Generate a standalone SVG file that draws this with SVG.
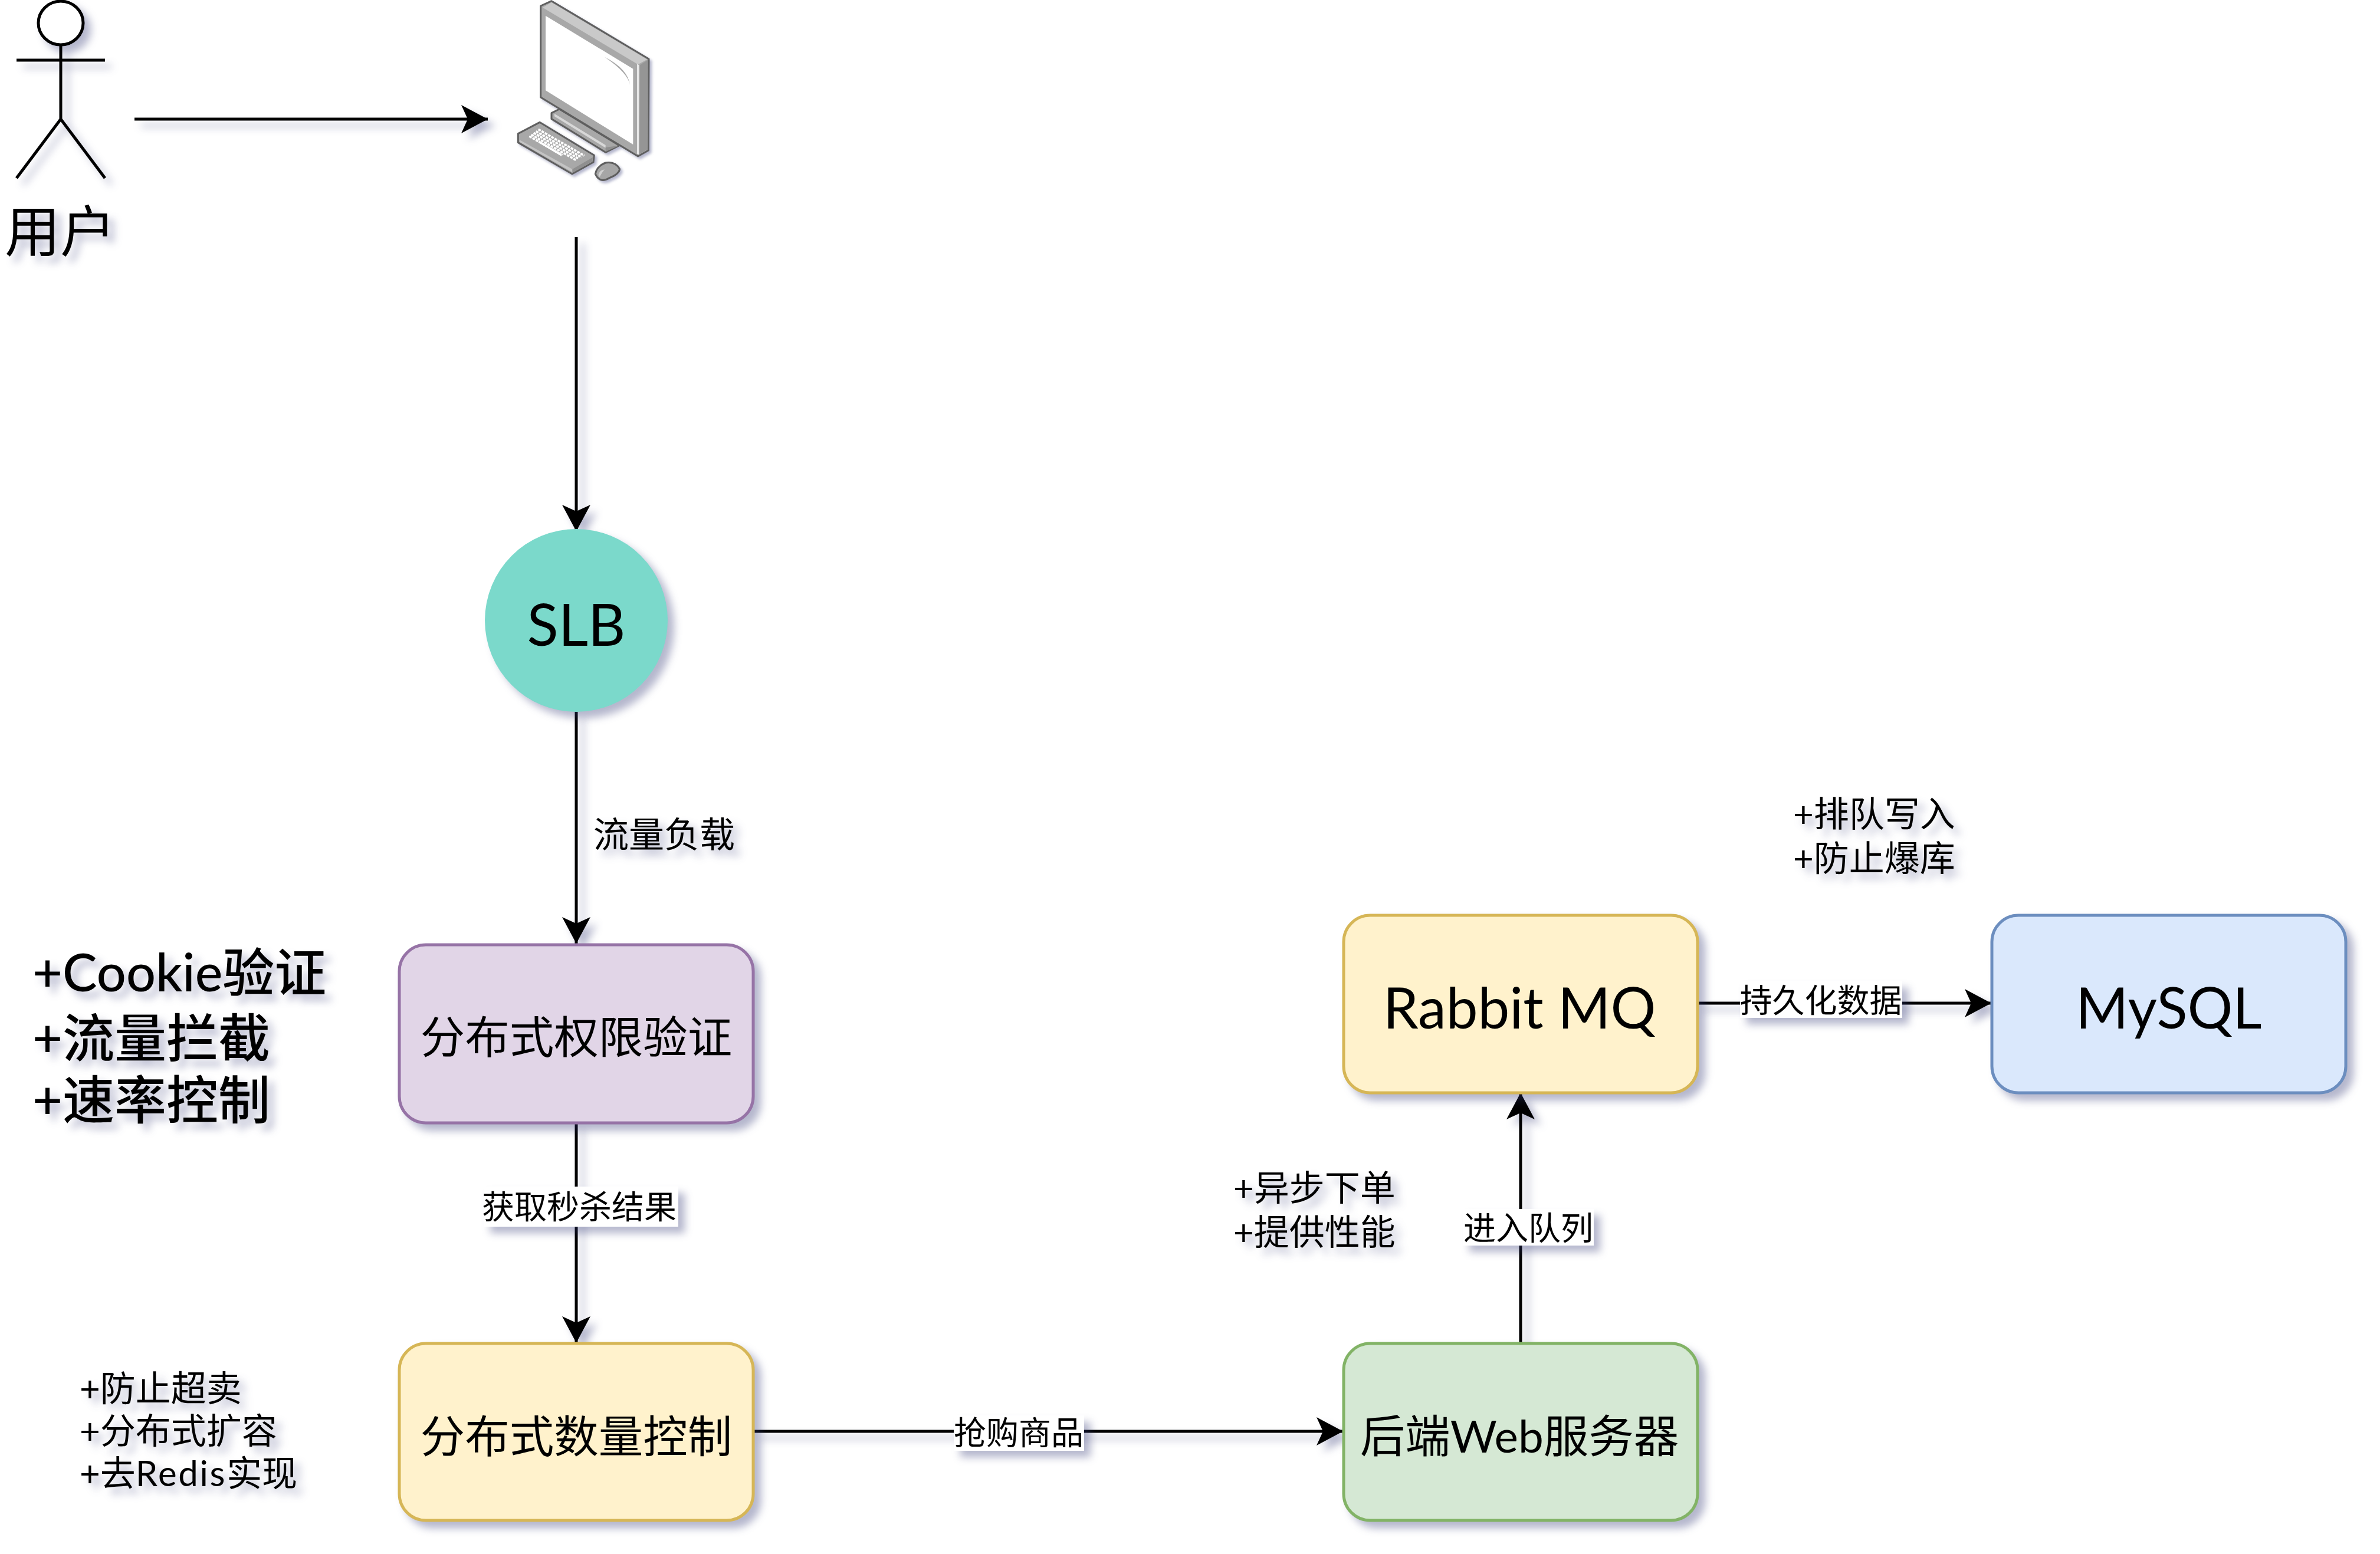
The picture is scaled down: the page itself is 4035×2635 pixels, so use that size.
<svg xmlns="http://www.w3.org/2000/svg" width="4035" height="2635" viewBox="0 0 4035 2635">
<style>
text{font-family:"Lato","Noto Sans CJK SC",sans-serif;fill:#000}
.m{text-anchor:middle}
.box{stroke-width:5}
.conn{fill:none;stroke:#000;stroke-width:5}
.lab{font-size:55px}
.note{font-size:60px}
.big{font-size:88px;font-weight:500}
.node{font-size:75.5px}
.mono{stroke:#5f5f5f;stroke-width:9;stroke-linejoin:round}
</style>
<defs>
<filter id="sh" filterUnits="userSpaceOnUse" x="0" y="0" width="4035" height="2635" color-interpolation-filters="sRGB">
<feDropShadow dx="11" dy="11" stdDeviation="7" flood-color="#2a3070" flood-opacity=".35"/>
</filter>
<marker id="arr" markerUnits="userSpaceOnUse" markerWidth="50" markerHeight="54" viewBox="0 -27 50 54" refX="45" refY="0" orient="auto">
<path d="M0,-24L45,0L0,24L11,0Z" fill="#000"/>
</marker>
</defs>
<rect width="4035" height="2635" fill="#fff"/>

<g id="connectors" filter="url(#sh)">
<path class="conn" marker-end="url(#arr)" d="M228,202H827"/>
<path class="conn" marker-end="url(#arr)" d="M977,402V901"/>
<path class="conn" marker-end="url(#arr)" d="M977,1207V1600"/>
<path class="conn" marker-end="url(#arr)" d="M977,1904V2277"/>
<path class="conn" marker-end="url(#arr)" d="M1277,2427H2277"/>
<path class="conn" marker-end="url(#arr)" d="M2578,2277V1853"/>
<path class="conn" marker-end="url(#arr)" d="M2877,1701H3376"/>
</g>

<g id="actor" filter="url(#sh)" fill="#fff" stroke="#000" stroke-width="5">
<ellipse cx="103" cy="39" rx="38" ry="37"/>
<path fill="none" d="M103,76V202M28,102H178M103,202L28,302M103,202L178,302"/>
<text class="m" x="102" y="427" font-size="94" stroke="none">用户</text>
</g>

<g id="computer" filter="url(#sh)" transform="translate(820 0) scale(.3333)">
<path class="mono" fill="#a8a8a8" d="M345,575L385,555L690,740L620,775L345,605Z"/>
<path fill="#d8d8d8" d="M360,578L620,738V752L360,592Z"/>
<path fill="#8f8f8f" d="M620,750L690,740L620,772Z"/>
<path class="mono" fill="#a8a8a8" d="M290,30L345,5L840,300L838,765L785,795L290,495Z"/>
<path fill="#c9c9c9" d="M300,38L345,12L832,302L785,328Z"/>
<path fill="#959595" d="M792,332L834,306L832,760L790,786Z"/>
<path fill="#e8e8e8" d="M780,325L792,332L790,786L780,782Z"/>
<path fill="#fff" d="M315,80L760,350V735L315,460Z"/>
<path fill="#a8a8a8" d="M615,290Q735,350 745,435Q735,370 615,290Z"/>
<path class="mono" fill="#a8a8a8" d="M175,680L285,622L562,790L558,825L450,885L175,725Z"/>
<path fill="#c4c4c4" d="M183,712L450,860L450,875L183,722Z"/>
<path fill="#8f8f8f" d="M452,860L555,800L552,822L452,878Z"/>
<g fill="none" stroke="#fff" stroke-width="11" stroke-dasharray="14 5">
<path d="M278,658L512,792"/><path d="M266,668L498,800"/><path d="M254,676L484,808"/><path d="M242,685L470,815"/><path d="M232,693L400,790"/>
</g>
<path stroke="#fff" stroke-width="11" d="M280,720L395,788"/>
<path class="mono" fill="#a6a6a6" d="M568,885Q575,845 620,828Q670,820 692,860Q690,885 640,905Q590,935 568,885Z"/>
<path fill="#d0d0d0" d="M583,890Q590,865 615,862Q600,880 590,900Z"/>
</g>

<g id="slb">
<circle cx="977" cy="1052" r="155" fill="#7bd9cb" filter="url(#sh)"/>
<text class="m" x="977" y="1095" font-size="98">SLB</text>
</g>

<g id="auth">
<rect class="box" x="677" y="1602" width="600" height="302" rx="45" fill="#e1d5e7" stroke="#9673a6" filter="url(#sh)"/>
<text class="m node" x="977" y="1786">分布式权限验证</text>
</g>
<g id="count">
<rect class="box" x="677" y="2278" width="600" height="300" rx="45" fill="#fff2cc" stroke="#d6b656" filter="url(#sh)"/>
<text class="m node" x="977" y="2463">分布式数量控制</text>
</g>
<g id="web">
<rect class="box" x="2278" y="2278" width="600" height="300" rx="45" fill="#d5e8d4" stroke="#82b366" filter="url(#sh)"/>
<text class="m" x="2576" y="2463" font-size="76.5">后端Web服务器</text>
</g>
<g id="rabbit">
<rect class="box" x="2278" y="1552" width="600" height="301" rx="45" fill="#fff2cc" stroke="#d6b656" filter="url(#sh)"/>
<text class="m" x="2576" y="1744" font-size="96">Rabbit MQ</text>
</g>
<g id="mysql">
<rect class="box" x="3377" y="1552" width="600" height="301" rx="45" fill="#dae8fc" stroke="#6c8ebf" filter="url(#sh)"/>
<text class="m" x="3677" y="1744" font-size="96">MySQL</text>
</g>

<g id="label-flow" filter="url(#sh)"><text class="note" x="1006" y="1437">流量负载</text></g>
<g id="label-result" filter="url(#sh)"><rect x="820" y="2012" width="330" height="68" fill="#fff"/><text class="lab m" x="982" y="2066">获取秒杀结果</text></g>
<g id="label-buy" filter="url(#sh)"><rect x="1617" y="2400" width="221" height="60" fill="#fff"/><text class="lab m" x="1727" y="2449">抢购商品</text></g>
<g id="label-queue" filter="url(#sh)"><rect x="2480" y="2050" width="222" height="62" fill="#fff"/><text class="lab m" x="2591" y="2102">进入队列</text></g>
<g id="label-persist" filter="url(#sh)"><rect x="2950" y="1664" width="275" height="62" fill="#fff"/><text class="lab m" x="3087" y="1716">持久化数据</text></g>

<g id="note-auth" filter="url(#sh)" class="big">
<text x="55" y="1681">+Cookie验证</text>
<text x="55" y="1792">+流量拦截</text>
<text x="55" y="1897">+速率控制</text>
</g>
<g id="note-count" filter="url(#sh)" class="note">
<text x="135" y="2376">+防止超卖</text>
<text x="135" y="2448">+分布式扩容</text>
<text x="135" y="2520">+去<tspan letter-spacing="2.6">Redis</tspan>实现</text>
</g>
<g id="note-web" filter="url(#sh)" class="note">
<text x="2091" y="2036">+异步下单</text>
<text x="2091" y="2111">+提供性能</text>
</g>
<g id="note-mq" filter="url(#sh)" class="note">
<text x="3040" y="1402">+排队写入</text>
<text x="3040" y="1477">+防止爆库</text>
</g>
</svg>
